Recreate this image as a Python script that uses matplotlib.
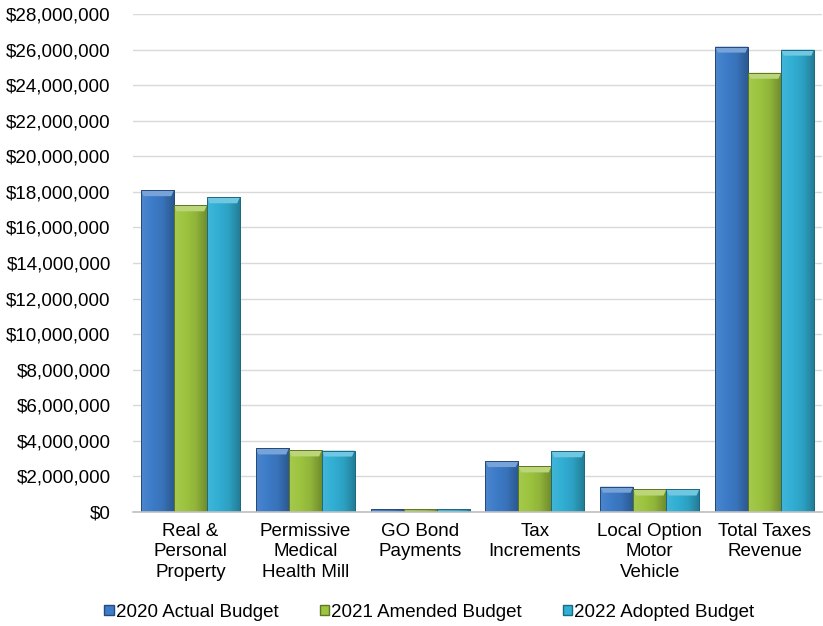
import numpy as np
import matplotlib.pyplot as plt
from matplotlib.colors import LinearSegmentedColormap, to_rgb
from matplotlib.patches import Polygon
from matplotlib.ticker import FuncFormatter, MultipleLocator

plt.rcParams["font.family"] = ["Liberation Sans", "DejaVu Sans"]

categories = ["Real &\nPersonal\nProperty", "Permissive\nMedical\nHealth Mill",
              "GO Bond\nPayments", "Tax\nIncrements", "Local Option\nMotor\nVehicle",
              "Total Taxes\nRevenue"]
series_names = ["2020 Actual Budget", "2021 Amended Budget", "2022 Adopted Budget"]
actual_2020 = [18_100_000, 3_580_000, 160_000, 2_870_000, 1_430_000, 26_170_000]
amended_2021 = [17_250_000, 3_470_000, 150_000, 2_570_000, 1_270_000, 24_700_000]
adopted_2022 = [17_700_000, 3_460_000, 150_000, 3_420_000, 1_270_000, 26_000_000]

colors = ["#3d7cc9", "#9dc43f", "#31afd4"]
FS = 13.5


def shade(c, f):
    r = np.array(to_rgb(c))
    return tuple(np.clip(r * f, 0, 1)) if f < 1 else tuple(r + (1 - r) * (f - 1))


fig = plt.figure(figsize=(8.23, 6.26), dpi=100)
ax = fig.add_axes([0.1616, 0.182, 0.8372, 0.7956])

x = np.arange(len(categories))
w = 0.287
values = [actual_2020, amended_2021, adopted_2022]
bevel = 0.34e6
for i, (vals, col) in enumerate(zip(values, colors)):
    bars = ax.bar(x + (i - 1) * w, vals, width=w, color=col, zorder=2,
                  edgecolor=shade(col, 0.6), linewidth=0.6)
    cmap = LinearSegmentedColormap.from_list(
        f"g{i}", [shade(col, 1.08), col, shade(col, 0.92), shade(col, 0.72)])
    grad = np.linspace(0, 1, 64).reshape(1, -1)
    for b in bars:
        bx, bw, bh = b.get_x(), b.get_width(), b.get_height()
        im = ax.imshow(grad, cmap=cmap, aspect="auto", extent=(bx, bx + bw, 0, bh),
                       zorder=2.1, interpolation="bilinear")
        im.set_clip_path(b)
        t = min(bevel, bh * 0.3)
        inset = bw * 0.08
        ax.add_patch(Polygon([(bx, bh), (bx + bw, bh), (bx + bw - inset, bh - t),
                              (bx + inset, bh - t)], closed=True,
                             facecolor=shade(col, 1.3), edgecolor="none", zorder=2.2))
        ax.add_patch(plt.Rectangle((bx, 0), bw, bh, fill=False,
                                   edgecolor=shade(col, 0.6), linewidth=0.7, zorder=2.3))
    # legend proxy
    ax.bar([0], [0], width=0, color=col, edgecolor=shade(col, 0.6), label=series_names[i])

ax.set_xlim(-0.5, len(categories) - 0.5)
ax.set_ylim(0, 28_000_000)
ax.yaxis.set_major_locator(MultipleLocator(2_000_000))
ax.yaxis.set_major_formatter(FuncFormatter(lambda v, p: f"${v:,.0f}"))
ax.set_xticks(x)
ax.set_xticklabels(categories, fontsize=FS, linespacing=1.25)
ax.tick_params(axis="y", labelsize=FS, length=0, pad=16)
ax.tick_params(axis="x", length=0, pad=8)
ax.grid(axis="y", color="#d9d9d9", linewidth=1, zorder=0)
ax.set_axisbelow(True)
for s in ["top", "right", "left"]:
    ax.spines[s].set_visible(False)
ax.spines["bottom"].set_color("#bfbfbf")
ax.spines["bottom"].set_linewidth(1.2)

ax.legend(loc="center", bbox_to_anchor=(0.43, -0.201), ncol=3, frameon=False,
          fontsize=FS, handlelength=0.5, handleheight=0.5, handletextpad=0.1,
          columnspacing=2.2, borderaxespad=0)

fig.savefig("out.png", dpi=100)
